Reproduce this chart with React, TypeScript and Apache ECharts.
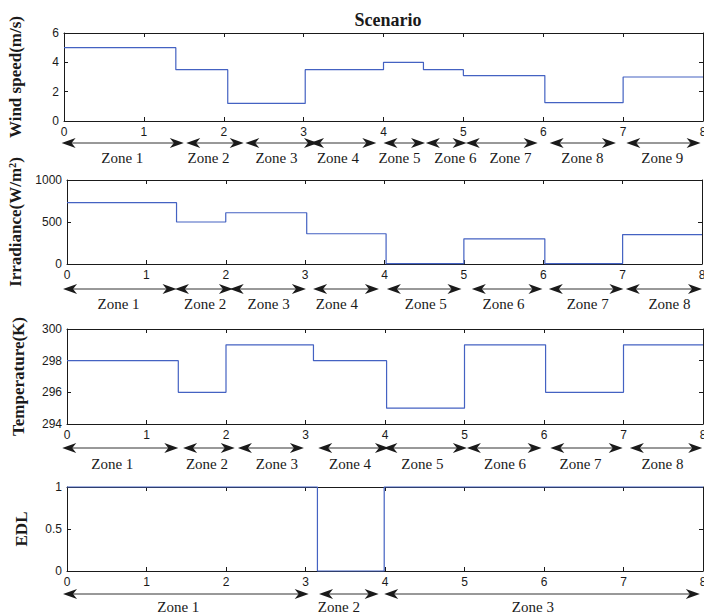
import React, { useEffect, useRef } from "react";
import * as echarts from "echarts";

// ---------- data ----------
const xMin = 0;
const xMax = 8;

const windTimes = [0, 1.4, 2.05, 3.02, 4.0, 4.5, 5.0, 6.02, 7.0, 8];
const windSpeed = [5, 3.5, 1.2, 3.5, 4.0, 3.5, 3.1, 1.25, 3.0, 3.0];
const windZoneStart = [-0.03, 1.53, 2.27, 3.08, 4.0, 4.53, 5.03, 6.08, 7.04];
const windZoneEnd = [1.5, 2.25, 3.18, 3.91, 4.52, 5.04, 5.93, 6.91, 7.97];
const windZoneLabelAt = [0.73, 1.81, 2.66, 3.43, 4.2, 4.9, 5.59, 6.49, 7.49];
const windZoneNames = ["Zone 1", "Zone 2", "Zone 3", "Zone 4", "Zone 5", "Zone 6", "Zone 7", "Zone 8", "Zone 9"];

const irrTimes = [0, 1.38, 2.0, 3.02, 4.02, 5.0, 6.02, 7.0, 8];
const irrValues = [730, 500, 610, 360, 5, 300, 5, 350, 350];
const irrZoneStart = [-0.05, 1.36, 2.05, 3.1, 4.03, 5.1, 6.07, 7.04];
const irrZoneEnd = [1.38, 2.09, 3.01, 3.93, 4.97, 5.99, 7.01, 8.0];
const irrZoneLabelAt = [0.65, 1.74, 2.54, 3.4, 4.52, 5.5, 6.56, 7.59];
const irrZoneNames = ["Zone 1", "Zone 2", "Zone 3", "Zone 4", "Zone 5", "Zone 6", "Zone 7", "Zone 8"];

const tempTimes = [0, 1.4, 2.0, 3.1, 4.02, 5.0, 6.02, 7.0, 8];
const tempValues = [298, 296, 299, 298, 295, 299, 296, 299, 299];
const tempZoneStart = [-0.06, 1.46, 2.15, 3.16, 3.98, 5.03, 6.08, 7.08];
const tempZoneEnd = [1.4, 2.11, 2.98, 4.05, 5.03, 5.97, 6.99, 7.99];
const tempZoneLabelAt = [0.57, 1.76, 2.64, 3.56, 4.47, 5.51, 6.46, 7.49];
const tempZoneNames = ["Zone 1", "Zone 2", "Zone 3", "Zone 4", "Zone 5", "Zone 6", "Zone 7", "Zone 8"];

const edlTimes = [0, 3.15, 3.99, 8];
const edlValues = [1, 0, 1, 1];
const edlZoneStart = [-0.05, 3.17, 3.99];
const edlZoneEnd = [3.04, 3.92, 7.96];
const edlZoneLabelAt = [1.4, 3.42, 5.86];
const edlZoneNames = ["Zone 1", "Zone 2", "Zone 3"];

const axisNames = ["Wind speed(m/s)", "Irradiance(W/m\u00B2)", "Temperature(K)", "EDL"];
const yMins = [0, 0, 294, 0];
const yMaxs = [6, 1000, 300, 1];
const ySteps = [2, 500, 2, 0.5];
const titleText = "Scenario";

// ---------- styles / layout ----------
const SERIF = '"Liberation Serif", "Times New Roman", serif';
const SANS = '"Liberation Sans", Arial, sans-serif';
const LINE_COLOR = "#4462c2";
const INK = "#1a1a1a";

const grids = [
  { left: 64, right: 1, top: 33, height: 88 },
  { left: 67, right: 2, top: 180, height: 84 },
  { left: 67, right: 1, top: 329, height: 95 },
  { left: 67, right: 1, top: 487, height: 84 },
];
const arrowGap = [22, 25, 24, 23];
const labelGap = [37, 40, 40, 36];
const nameGaps = [40, 40, 40, 37];

const panels = [
  { t: windTimes, v: windSpeed, zs: windZoneStart, ze: windZoneEnd, zl: windZoneLabelAt, zn: windZoneNames },
  { t: irrTimes, v: irrValues, zs: irrZoneStart, ze: irrZoneEnd, zl: irrZoneLabelAt, zn: irrZoneNames },
  { t: tempTimes, v: tempValues, zs: tempZoneStart, ze: tempZoneEnd, zl: tempZoneLabelAt, zn: tempZoneNames },
  { t: edlTimes, v: edlValues, zs: edlZoneStart, ze: edlZoneEnd, zl: edlZoneLabelAt, zn: edlZoneNames },
];

const HEAD_L = 14;
const HEAD_H = 5;
const HEAD_N = 10;

function head(tipX: number, y: number, dir: number) {
  return {
    type: "polygon",
    shape: {
      points: [
        [tipX, y],
        [tipX - dir * HEAD_L, y - HEAD_H],
        [tipX - dir * HEAD_N, y],
        [tipX - dir * HEAD_L, y + HEAD_H],
      ],
    },
    style: { fill: INK },
  };
}

function buildOption() {
  const xAxis: any[] = [];
  const yAxis: any[] = [];
  const series: any[] = [];
  const lineStyle = { color: INK, width: 1 };
  const tick = { show: true, inside: true, length: 4, lineStyle: { color: INK } };
  const plain = (v: number) => String(v);

  panels.forEach((p, i) => {
    xAxis.push({
      type: "value", gridIndex: i, min: xMin, max: xMax, interval: 1, position: "bottom",
      axisLine: { show: true, onZero: false, lineStyle },
      axisTick: tick,
      axisLabel: { show: true, fontFamily: SANS, fontSize: 12, color: INK, margin: 5, formatter: plain },
      splitLine: { show: false },
    });
    xAxis.push({
      type: "value", gridIndex: i, min: xMin, max: xMax, interval: 1, position: "top",
      axisLine: { show: true, onZero: false, lineStyle },
      axisTick: tick,
      axisLabel: { show: false },
      splitLine: { show: false },
    });
    yAxis.push({
      type: "value", gridIndex: i, min: yMins[i], max: yMaxs[i], interval: ySteps[i], position: "left",
      name: axisNames[i], nameLocation: "middle", nameRotate: 90, nameGap: nameGaps[i],
      nameTextStyle: { fontFamily: SERIF, fontWeight: "bold", fontSize: 17, color: INK },
      axisLine: { show: true, onZero: false, lineStyle },
      axisTick: tick,
      axisLabel: { show: true, fontFamily: SANS, fontSize: 12, color: INK, margin: 5, formatter: plain },
      splitLine: { show: false },
    });
    yAxis.push({
      type: "value", gridIndex: i, min: yMins[i], max: yMaxs[i], interval: ySteps[i], position: "right",
      axisLine: { show: true, onZero: false, lineStyle },
      axisTick: tick,
      axisLabel: { show: false },
      splitLine: { show: false },
    });

    series.push({
      type: "line",
      xAxisIndex: 2 * i,
      yAxisIndex: 2 * i,
      data: p.t.map((t, k) => [t, p.v[k]]),
      step: "end",
      showSymbol: false,
      symbol: "none",
      clip: false,
      z: 3,
      lineStyle: { color: LINE_COLOR, width: 1.2 },
    });

    const yMin = yMins[i];
    series.push({
      type: "custom",
      xAxisIndex: 2 * i,
      yAxisIndex: 2 * i,
      clip: false,
      silent: true,
      z: 4,
      data: p.zs.map((s, k) => [s, p.ze[k], yMin]),
      encode: { x: [0, 1], y: 2 },
      renderItem: (params: any, api: any) => {
        const k = params.dataIndex;
        const a = api.coord([api.value(0), api.value(2)]);
        const b = api.coord([api.value(1), api.value(2)]);
        const c = api.coord([p.zl[k], api.value(2)]);
        const y = a[1] + arrowGap[i];
        const ly = a[1] + labelGap[i];
        return {
          type: "group",
          children: [
            {
              type: "line",
              shape: { x1: a[0] + 4, y1: y, x2: b[0] - 4, y2: y },
              style: { stroke: "#333", lineWidth: 1 },
            },
            head(a[0], y, -1),
            head(b[0], y, 1),
            {
              type: "text",
              style: {
                text: p.zn[k],
                x: c[0],
                y: ly,
                align: "center",
                verticalAlign: "middle",
                textAlign: "center",
                textVerticalAlign: "middle",
                font: `15px ${SERIF}`,
                fill: INK,
              },
            },
          ],
        };
      },
    });
  });

  return {
    animation: false,
    backgroundColor: "#ffffff",
    title: {
      text: titleText,
      left: 383,
      top: 6,
      textAlign: "center",
      textStyle: { fontFamily: SERIF, fontWeight: "bold", fontSize: 18, color: INK },
    },
    grid: grids.map((g) => ({ ...g, containLabel: false, outerBoundsMode: "none" })),
    xAxis,
    yAxis,
    series,
  };
}

export default function App() {
  const ref = useRef<HTMLDivElement>(null);
  useEffect(() => {
    if (!ref.current) return;
    document.documentElement.style.overflow = "hidden";
    document.body.style.margin = "0";
    document.body.style.overflow = "hidden";
    const chart = echarts.init(ref.current, null, { renderer: "svg", width: 704, height: 616 });
    chart.setOption(buildOption() as any);
    return () => chart.dispose();
  }, []);
  return (
    <div
      ref={ref}
      style={{ position: "fixed", left: 0, top: 0, width: 704, height: 616, background: "#fff" }}
    />
  );
}
